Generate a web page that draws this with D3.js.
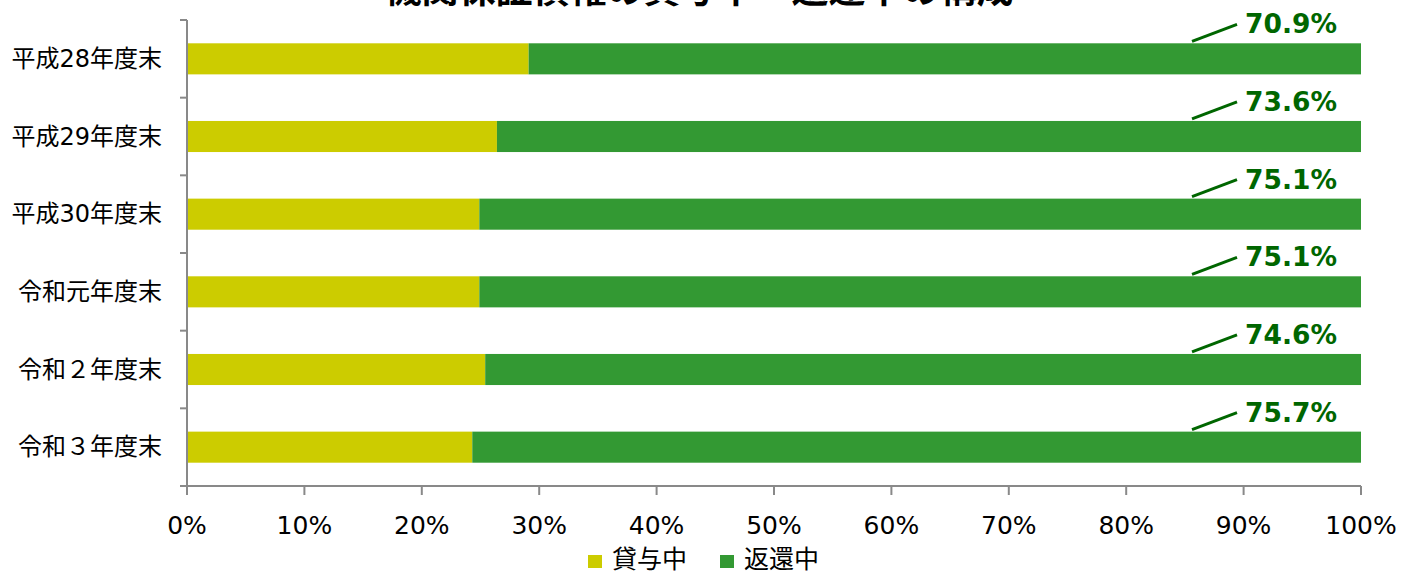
<!DOCTYPE html>
<html>
<head>
<meta charset="utf-8">
<script src="https://cdn.jsdelivr.net/npm/d3@7"></script>
<style>
  body { margin: 0; background: #fff; }
  text { font-family: "DejaVu Sans", "Noto Sans CJK JP", sans-serif; }
</style>
</head>
<body>
<div class="chart"></div>
<script>
const title      = '機関保証債権の貸与中・返還中の構成';
const categories = ['平成28年度末', '平成29年度末', '平成30年度末', '令和元年度末', '令和２年度末', '令和３年度末'];
const repaying   = [70.9, 73.6, 75.1, 75.1, 74.6, 75.7];
const lending    = [29.1, 26.4, 24.9, 24.9, 25.4, 24.3];
const seriesNames = ['貸与中', '返還中'];
const xTicks     = [0, 10, 20, 30, 40, 50, 60, 70, 80, 90, 100];

const W = 1402, H = 572;
const margin = { left: 187, right: 41, top: 20, bottom: 86 };
const colors = { lend: '#cccc00', repay: '#339933', label: '#006600', axis: '#898989' };

const svg = d3.select('.chart').append('svg').attr('width', W).attr('height', H);

const x = d3.scaleLinear().domain([0, 100]).range([margin.left, W - margin.right]);
const y = d3.scaleBand().domain(categories).range([margin.top, H - margin.bottom]).paddingInner(0.6).paddingOuter(0.3);
const yTicks = d3.scaleBand().domain(categories).range([margin.top, H - margin.bottom]);

// title (cut off at top in the original)
svg.append('text')
  .attr('x', W / 2 - 2)
  .attr('y', 3)
  .attr('text-anchor', 'middle')
  .style('font-family', '"Noto Sans CJK JP", sans-serif')
  .style('font-size', '37px')
  .style('font-weight', 'bold')
  .text(title);

const rows = categories.map((c, i) => ({ cat: c, lend: lending[i], repay: repaying[i] }));

const g = svg.append('g');

g.selectAll('.lend').data(rows).enter().append('rect')
  .attr('x', x(0))
  .attr('y', d => y(d.cat))
  .attr('width', d => x(d.lend) - x(0))
  .attr('height', y.bandwidth())
  .style('fill', colors.lend);

g.selectAll('.repay').data(rows).enter().append('rect')
  .attr('x', d => x(d.lend))
  .attr('y', d => y(d.cat))
  .attr('width', d => x(d.lend + d.repay) - x(d.lend))
  .attr('height', y.bandwidth())
  .style('fill', colors.repay);

// data labels with leader lines
const lx = W - margin.right - 169;
g.selectAll('.lead').data(rows).enter().append('line')
  .attr('x1', lx).attr('y1', d => y(d.cat) - 2)
  .attr('x2', lx + 45).attr('y2', d => y(d.cat) - 19)
  .style('stroke', colors.label)
  .style('stroke-width', 3);

g.selectAll('.val').data(rows).enter().append('text')
  .attr('x', lx + 53)
  .attr('y', d => y(d.cat) - 10)
  .style('fill', colors.label)
  .style('font-size', '26.5px')
  .style('font-weight', 'bold')
  .text(d => d.repay.toFixed(1) + '%');

// y axis
const yAxis = svg.append('g');
yAxis.append('line')
  .attr('x1', x(0)).attr('x2', x(0))
  .attr('y1', margin.top).attr('y2', H - margin.bottom)
  .style('stroke', colors.axis).style('stroke-width', 2);
const yEdges = categories.map(c => yTicks(c)).concat([H - margin.bottom]);
yAxis.selectAll('.yt').data(yEdges).enter().append('line')
  .attr('x1', x(0) - 7).attr('x2', x(0))
  .attr('y1', d => d).attr('y2', d => d)
  .style('stroke', colors.axis).style('stroke-width', 2);
yAxis.selectAll('.yl').data(categories).enter().append('text')
  .attr('x', x(0) - 25)
  .attr('y', d => y(d) + y.bandwidth() / 2 + 8)
  .attr('text-anchor', 'end')
  .style('font-size', '24px')
  .style('fill', '#000')
  .text(d => d);

// x axis
const xAxis = svg.append('g');
xAxis.append('line')
  .attr('x1', x(0) - 7).attr('x2', x(100))
  .attr('y1', H - margin.bottom).attr('y2', H - margin.bottom)
  .style('stroke', colors.axis).style('stroke-width', 2);
xAxis.selectAll('.xt').data(xTicks).enter().append('line')
  .attr('x1', d => x(d)).attr('x2', d => x(d))
  .attr('y1', H - margin.bottom).attr('y2', H - margin.bottom + 9)
  .style('stroke', colors.axis).style('stroke-width', 2);
xAxis.selectAll('.xl').data(xTicks).enter().append('text')
  .attr('x', d => x(d))
  .attr('y', H - margin.bottom + 48)
  .attr('text-anchor', 'middle')
  .style('font-size', '25px')
  .style('fill', '#000')
  .text(d => d + '%');

// legend
const legend = svg.append('g');
const legendItems = [
  { name: seriesNames[0], color: colors.lend, x: 588 },
  { name: seriesNames[1], color: colors.repay, x: 720 }
];
legend.selectAll('rect').data(legendItems).enter().append('rect')
  .attr('x', d => d.x).attr('y', 555)
  .attr('width', 14).attr('height', 13)
  .style('fill', d => d.color);
legend.selectAll('text').data(legendItems).enter().append('text')
  .attr('x', d => d.x + 24)
  .attr('y', 568)
  .style('font-size', '25px')
  .style('fill', '#000')
  .text(d => d.name);
</script>
</body>
</html>
